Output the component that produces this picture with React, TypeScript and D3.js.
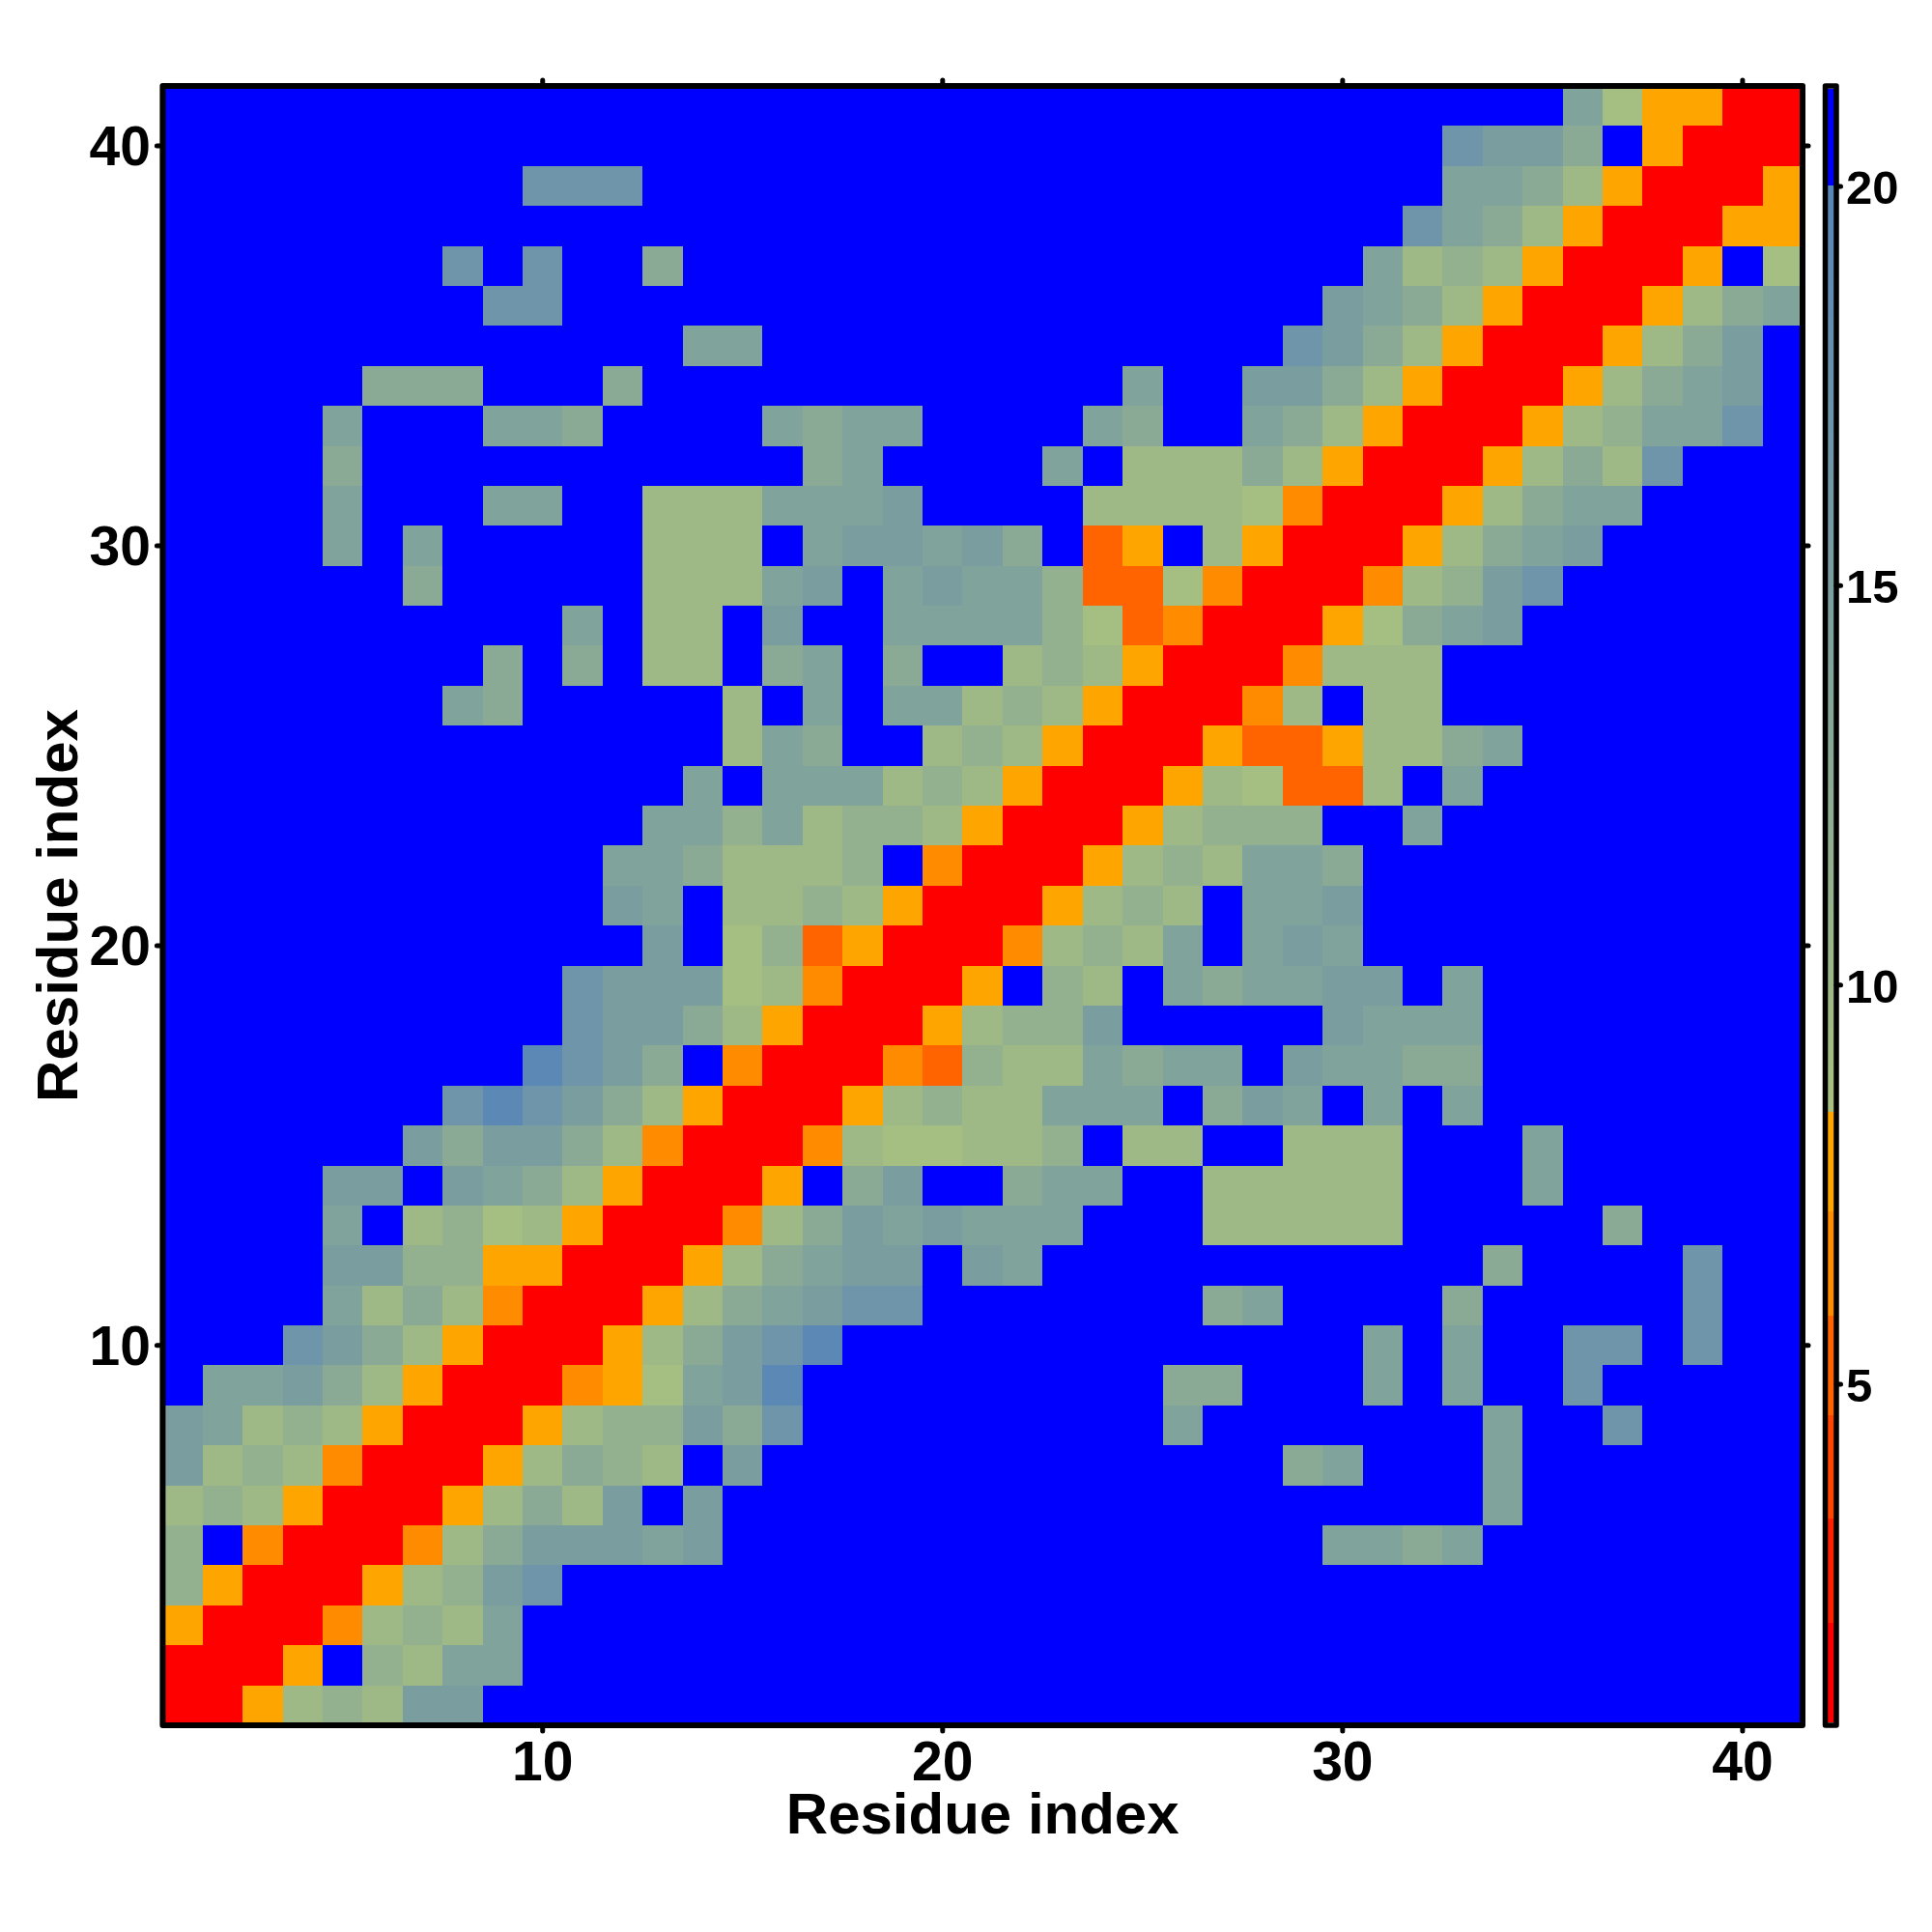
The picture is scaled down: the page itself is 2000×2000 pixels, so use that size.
import React from "react";
import * as d3 from "d3";

// Distance level of each letter used in the contact rows ("." = above the scale)
const levelValues: Record<string, number> = {
  R: 1.5, d: 5.2, o: 6.5, O: 7.7,
  a: 8.8, b: 9.7, c: 11.4, e: 12.75, f: 14.2, g: 15, h: 16.8, i: 19.4,
  ".": 21,
};

// Each row: [residue on y axis, [first x residue, letters], ...]
const rowsTop: [number, [number, string][]][] = [
  [41, [[36, "faOORR"]]],
  [40, [[33, "hgge.ORRR"]]],
  [39, [[10, "hhh"], [33, "ffebORRRO"]]],
  [38, [[32, "hfebORRROO"]]],
  [37, [[8, "h.h"], [13, "e"], [31, "fbcbORRRO.a"]]],
  [36, [[9, "hh"], [30, "gfebORRRObef"]]],
  [35, [[14, "ff"], [29, "hgebORRRObeg"]]],
  [34, [[6, "eee"], [12, "e"], [25, "f"], [28, "ggebORRRObefg"]]],
  [33, [[5, "f"], [9, "ffe"], [16, "feff"], [24, "fe"], [28, "febORRRObcffh"]]],
  [32, [[5, "e"], [17, "ef"], [23, "f"], [25, "bbbebORRRObebh"]]],
  [31, [[5, "f"], [9, "ff"], [13, "bbbfffg"], [24, "bbbbaoRRRObeff"]]],
  [30, [[5, "f"], [7, "f"], [13, "bbb.fggfge.dO.bORRRObefg"]]],
  [29, [[7, "e"], [13, "bbbfg.fgffcddaoRRRobcgh"]]],
  [28, [[11, "f"], [13, "bb.g..ffffcadoRRROaefg"]]],
];
const rowsMiddle: [number, [number, string][]][] = [
  [27, [[9, "e"], [11, "e"], [13, "bb.ef.e..bcbORRRobbb"]]],
  [26, [[8, "fe"], [15, "b.f.ffbcbORRRob.bb"]]],
  [25, [[15, "bfe..bcbORRROddObbef"]]],
  [24, [[14, "f.fffbcbORRRObaddb.f"]]],
  [23, [[13, "ffcfbccbORRRObccc"], [32, "f"]]],
  [22, [[12, "ffebbbc.oRRRObcbffe"]]],
  [21, [[12, "gf.bbcbORRRObcb.ffg"]]],
  [20, [[13, "g.acdORRRobcbf.fgf"]]],
  [19, [[11, "hgggaboRRRO.cb.feffgg.f"]]],
  [18, [[11, "hggebORRRObccg"], [30, "gfff"]]],
  [17, [[10, "ihge.oRRRodcbbfeff.gffee"]]],
  [16, [[8, "hihgebORRRObcbbfff.egf.f.f"]]],
  [15, [[7, "geggeboRRRobaabbc.bb..bbb"], [35, "f"]]],
  [14, [[5, "gg.gfebORRRO.eg..eff..bbbbb"], [35, "f"]]],
];
const rowsBottom: [number, [number, string][]][] = [
  [13, [[5, "f.bcabORRRobegfgfff"], [27, "bbbbb"], [37, "e"]]],
  [12, [[5, "ggccOORRRObefgg.gf"], [34, "e"], [39, "h"]]],
  [11, [[5, "fbeboRRRObefghh"], [27, "ef"], [33, "e"], [39, "h"]]],
  [10, [[4, "hgebORRRObeghi"], [31, "f"], [33, "f"], [36, "hh"], [39, "h"]]],
  [9, [[2, "ffgebORRRoOafgi"], [26, "ee"], [31, "f"], [33, "f"], [36, "h"]]],
  [8, [[1, "gfbcbORRRObccgeh"], [26, "f"], [34, "f"], [37, "h"]]],
  [7, [[1, "gbcboRRRObecb.g"], [29, "ef"], [34, "f"]]],
  [6, [[1, "bcbORRRObebg.g"], [34, "f"]]],
  [5, [[1, "c.oRRRobegggfg"], [30, "ffef"]]],
  [4, [[1, "cORRRObcgh"]]],
  [3, [[1, "ORRRobcbf"]]],
  [2, [[1, "RRRO.cbff"]]],
  [1, [[1, "RRObcbgg"]]],
];

const residueCount = 41;
const axisTicks = [10, 20, 30, 40];
const barTicks = [5, 10, 15, 20];
const bandBreaks = [2.0, 3.3, 4.6, 5.86, 7.13, 8.4];
const bandColors = ["#ff0000", "#ff2000", "#ff4500", "#ff6400", "#ff8c00", "#ffa500"];
const barDomain = [0.77, 21.2];
const axisTitle = "Residue index";

const FONT = "'Liberation Sans', Arial, Helvetica, sans-serif";
const L = 168.4, R = 1866, T = 89, B = 1786;
const BAR_L = 1889.5, BAR_R = 1901;

const x = d3.scaleLinear().domain([0.5, residueCount + 0.5]).range([L, R]);
const y = d3.scaleLinear().domain([0.5, residueCount + 0.5]).range([B, T]);
const barY = d3.scaleLinear().domain([5, 20]).range([1433, 193]);

const bands = d3.scaleThreshold<number, string>().domain(bandBreaks).range([...bandColors, "#000000"]);
const ramp = d3.scaleLinear<string>().domain([8.4, 20]).range(["#a8c080", "#5885b8"]).interpolate(d3.interpolateRgb);
const colorOf = (v: number) => (v >= 20.02 ? "#0000ff" : v < 8.4 ? bands(v) : ramp(v));

const cells = [...rowsTop, ...rowsMiddle, ...rowsBottom].flatMap(([row, runs]) =>
  runs.flatMap(([start, letters]) =>
    Array.from(letters).map((ch, i) => ({ col: start + i, row, value: levelValues[ch] }))
  )
);

const barSteps = d3.range(barDomain[0], barDomain[1], 0.05);

export default function App() {
  const common = { fontFamily: FONT, fontWeight: 700, fill: "#000" } as const;
  const tick = { stroke: "#000", strokeWidth: 5, strokeLinecap: "round" } as const;
  const cw = x(1.5) - x(0.5);
  const ch = y(0.5) - y(1.5);
  return (
    <svg
      width={2000}
      height={2000}
      viewBox="0 0 2000 2000"
      style={{ position: "absolute", left: 0, top: 0, background: "#fff" }}
    >
      <rect x={L} y={T} width={R - L} height={B - T} fill="#0000ff" />
      <g shapeRendering="crispEdges">
        {cells.map((c) => (
          <rect
            key={`${c.col}-${c.row}`}
            x={x(c.col - 0.5)}
            y={y(c.row + 0.5)}
            width={cw}
            height={ch}
            fill={colorOf(c.value)}
          />
        ))}
      </g>
      <rect x={L} y={T} width={R - L} height={B - T} fill="none" stroke="#000" strokeWidth={6} strokeLinejoin="round" />
      {axisTicks.map((t) => (
        <g key={t}>
          <line x1={x(t)} x2={x(t)} y1={B} y2={B + 6} {...tick} />
          <line x1={x(t)} x2={x(t)} y1={T} y2={T - 6} {...tick} />
          <line y1={y(t)} y2={y(t)} x1={L} x2={L - 6} {...tick} />
          <line y1={y(t)} y2={y(t)} x1={R} x2={R + 6} {...tick} />
          <text x={x(t)} y={1843} textAnchor="middle" fontSize={57} {...common}>{t}</text>
          <text x={156} y={y(t) + 20} textAnchor="end" fontSize={57} {...common}>{t}</text>
        </g>
      ))}
      <text x={(L + R) / 2} y={1898} textAnchor="middle" fontSize={60} {...common}>{axisTitle}</text>
      <text
        transform={`translate(80,${(T + B) / 2}) rotate(-90)`}
        textAnchor="middle"
        fontSize={60}
        {...common}
      >
        {axisTitle}
      </text>

      <g shapeRendering="crispEdges">
        {barSteps.map((v) => (
          <rect key={v} x={BAR_L} width={BAR_R - BAR_L} y={barY(v + 0.05)} height={barY(v) - barY(v + 0.05) + 0.5} fill={colorOf(v)} />
        ))}
      </g>
      <rect x={BAR_L} y={T} width={BAR_R - BAR_L} height={B - T} fill="none" stroke="#000" strokeWidth={5.5} strokeLinejoin="round" />
      {barTicks.map((t) => (
        <g key={t}>
          <line x1={BAR_R} x2={BAR_R + 4.5} y1={barY(t)} y2={barY(t)} {...tick} />
          <text x={1911} y={barY(t) + 18} fontSize={49} {...common}>{t}</text>
        </g>
      ))}
    </svg>
  );
}
